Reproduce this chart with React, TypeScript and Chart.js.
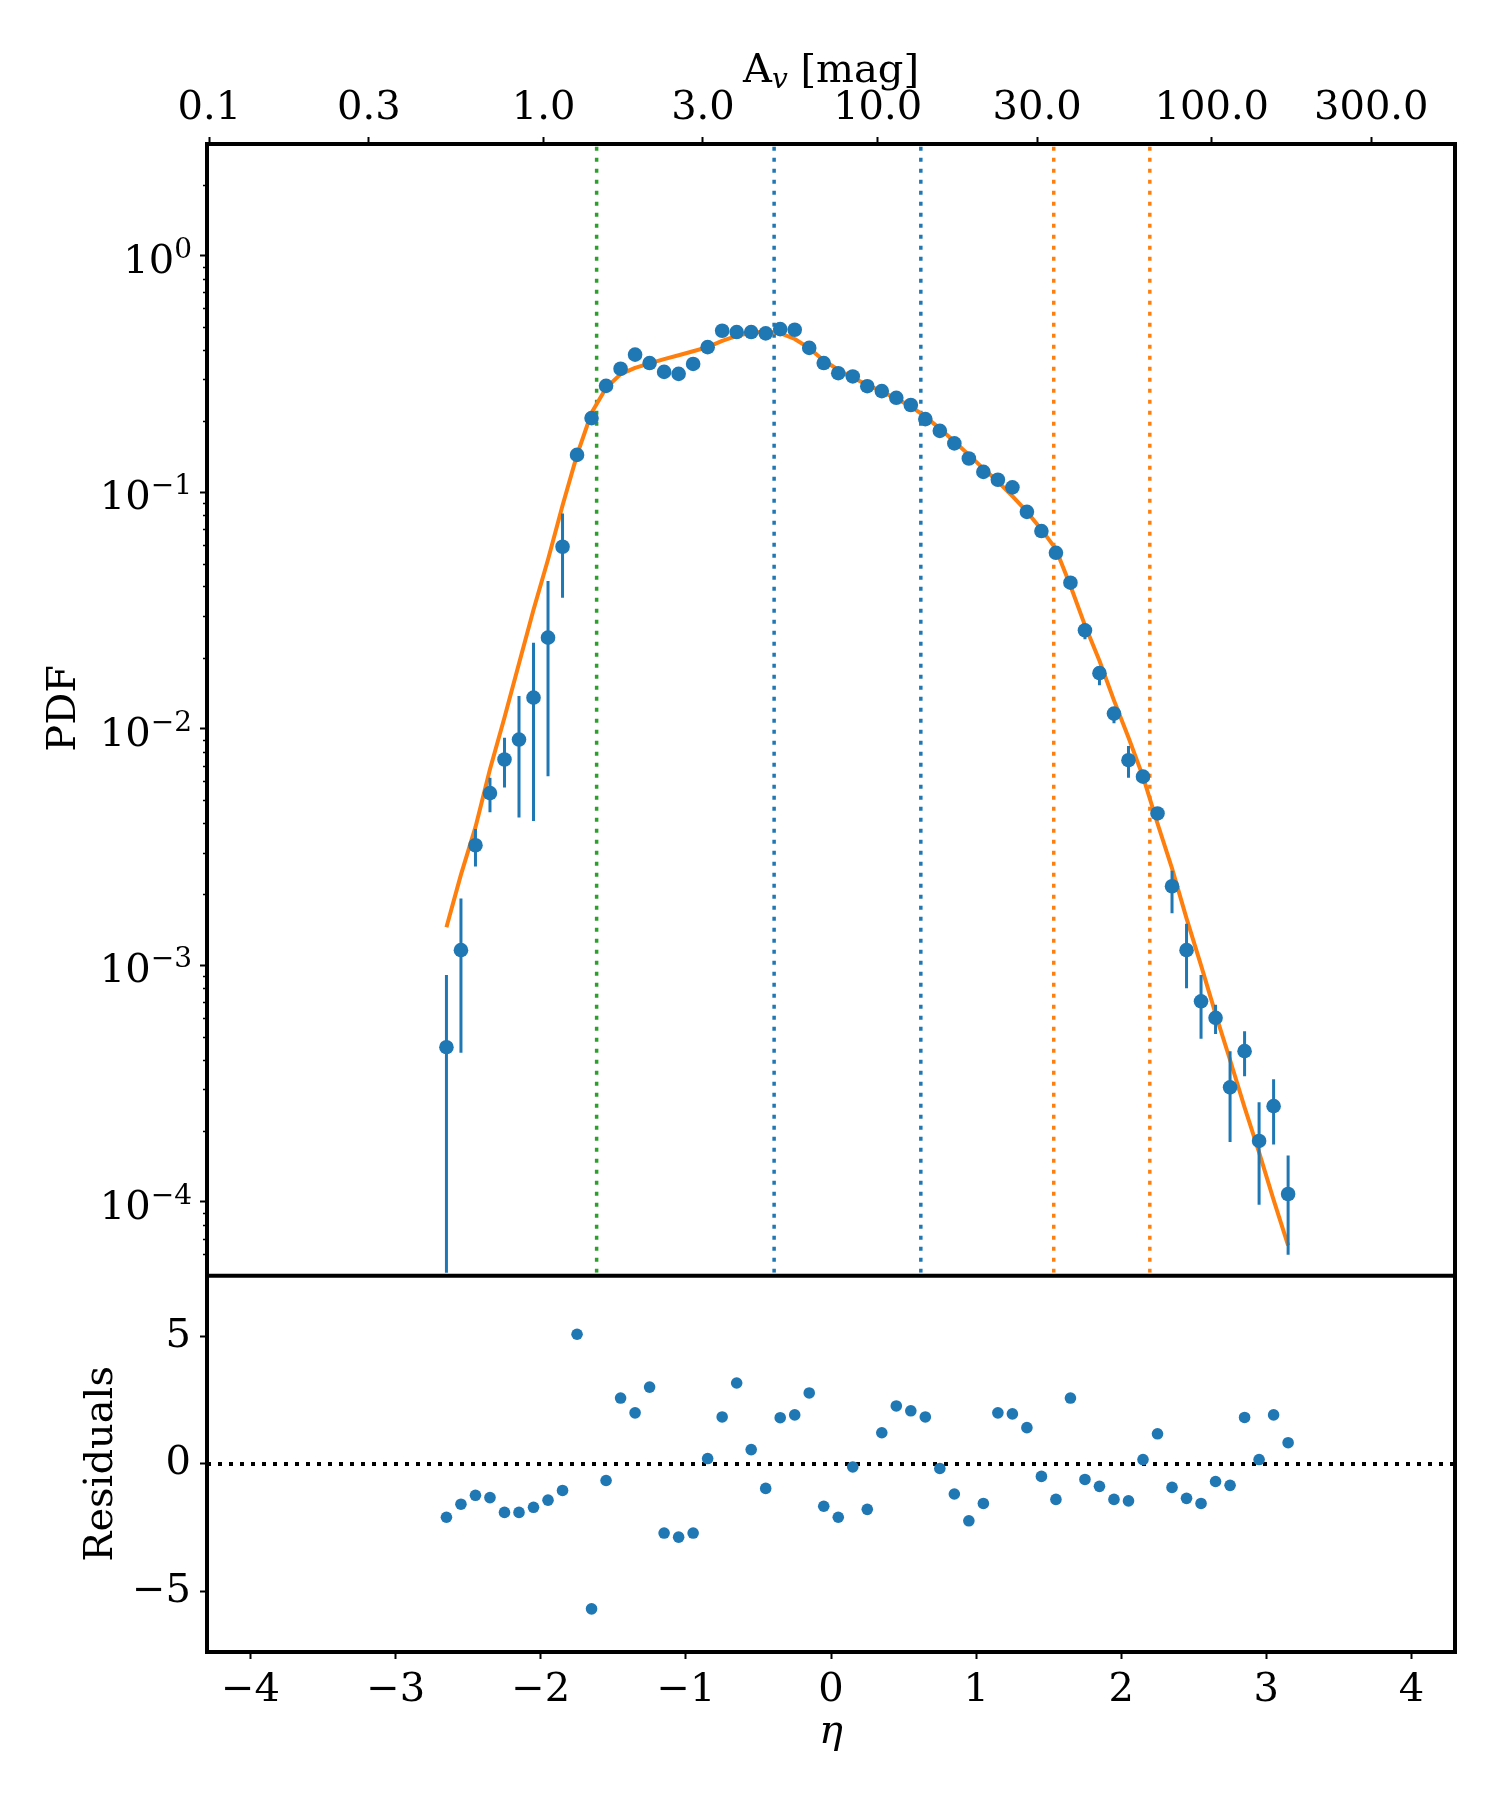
import React, { useEffect, useRef } from "react";
import { Chart, registerables } from "chart.js";

Chart.register(...registerables);

// ---------------- data ----------------
const etaBins = [
  -2.65, -2.55, -2.45, -2.35, -2.25, -2.15, -2.05, -1.95, -1.85, -1.75,
  -1.65, -1.55, -1.45, -1.35, -1.25, -1.15, -1.05, -0.95, -0.85, -0.75,
  -0.65, -0.55, -0.45, -0.35, -0.25, -0.15, -0.05, 0.05, 0.15, 0.25,
  0.35, 0.45, 0.55, 0.65, 0.75, 0.85, 0.95, 1.05, 1.15, 1.25,
  1.35, 1.45, 1.55, 1.65, 1.75, 1.85, 1.95, 2.05, 2.15, 2.25,
  2.35, 2.45, 2.55, 2.65, 2.75, 2.85, 2.95, 3.05, 3.15,
];

const pdfValues = [
  4.51e-4, 1.16e-3, 3.22e-3, 5.35e-3, 7.42e-3, 9.01e-3, 1.355e-2, 2.43e-2, 5.89e-2, 0.144,
  0.206, 0.282, 0.333, 0.382, 0.352, 0.323, 0.317, 0.349, 0.411, 0.482,
  0.476, 0.476, 0.47, 0.49, 0.487, 0.408, 0.352, 0.319, 0.309, 0.281,
  0.268, 0.251, 0.234, 0.204, 0.182, 0.161, 0.139, 0.122, 0.113, 0.105,
  0.0827, 0.0686, 0.0555, 0.0415, 0.0261, 0.0172, 0.0116, 7.37e-3, 6.28e-3, 4.39e-3,
  2.16e-3, 1.16e-3, 7.05e-4, 6.0e-4, 3.05e-4, 4.34e-4, 1.81e-4, 2.54e-4, 1.08e-4,
];

// lower / upper ends of the error bars (null = hidden behind the marker)
const pdfErrLower = [
  1e-6, 4.27e-4, 2.62e-3, 4.44e-3, 5.65e-3, 4.22e-3, 4.08e-3, 6.3e-3, 3.58e-2, null,
  null, null, null, null, null, null, null, null, null, null,
  null, null, null, null, null, null, null, null, null, null,
  null, null, null, null, null, null, null, null, null, null,
  null, null, null, null, 0.0239, 0.01528, 0.01057, 6.22e-3, null, null,
  1.66e-3, 8.0e-4, 4.89e-4, 5.13e-4, 1.79e-4, 3.4e-4, 9.73e-5, 1.75e-4, 5.98e-5,
];
const pdfErrUpper = [
  9.1e-4, 1.92e-3, 3.77e-3, 6.22e-3, 9.18e-3, 1.377e-2, 2.31e-2, 4.22e-2, 8.13e-2, null,
  null, null, null, null, null, null, null, null, null, null,
  null, null, null, null, null, null, null, null, null, null,
  null, null, null, null, null, null, null, null, null, null,
  null, null, null, null, null, null, null, 8.47e-3, null, null,
  2.51e-3, 1.5e-3, 9.1e-4, 6.81e-4, 4.33e-4, 5.27e-4, 2.64e-4, 3.3e-4, 1.57e-4,
];

const fitValues = [
  1.45e-3, 2.42e-3, 3.84e-3, 6.75e-3, 1.117e-2, 1.89e-2, 3.19e-2, 5.2e-2, 8.79e-2, 0.144,
  0.217, 0.276, 0.316, 0.336, 0.351, 0.366, 0.38, 0.395, 0.411, 0.437,
  0.459, 0.473, 0.479, 0.471, 0.445, 0.407, 0.361, 0.33, 0.305, 0.285,
  0.267, 0.249, 0.231, 0.209, 0.186, 0.164, 0.144, 0.126, 0.111, 0.0964,
  0.0828, 0.0697, 0.0575, 0.0403, 0.0274, 0.0194, 0.0132, 9.2e-3, 6.28e-3, 3.98e-3,
  2.57e-3, 1.58e-3, 1.0e-3, 6.24e-4, 3.98e-4, 2.51e-4, 1.62e-4, 1.02e-4, 6.55e-5,
];

const residuals = [
  -2.09, -1.58, -1.23, -1.32, -1.9, -1.9, -1.7, -1.42, -1.04, 5.08,
  -5.68, -0.65, 2.58, 2.0, 3.01, -2.71, -2.87, -2.71, 0.21, 1.84,
  3.17, 0.56, -0.96, 1.81, 1.92, 2.78, -1.66, -2.09, -0.12, -1.78,
  1.22, 2.27, 2.08, 1.84, -0.18, -1.18, -2.23, -1.55, 2.0, 1.96,
  1.42, -0.49, -1.39, 2.58, -0.61, -0.88, -1.39, -1.45, 0.17, 1.18,
  -0.92, -1.35, -1.55, -0.69, -0.84, 1.82, 0.17, 1.92, 0.83,
];

const greenLines = [-1.615];
const blueLines = [-0.392, 0.619];
const orangeLines = [1.535, 2.197];

const etaTicks = [-4, -3, -2, -1, 0, 1, 2, 3, 4];
const residualTicks = [-5, 0, 5];
const pdfTicks = [1e-4, 1e-3, 1e-2, 1e-1, 1];
const pdfTickExponents = ["\u22124", "\u22123", "\u22122", "\u22121", "0"];
const avTicks = [0.1, 0.3, 1, 3, 10, 30, 100, 300];
const avTickLabels = ["0.1", "0.3", "1.0", "3.0", "10.0", "30.0", "100.0", "300.0"];
const AV_MEAN = 7.25; // A_v = AV_MEAN * exp(eta)

const ETA_MIN = -4.3;
const ETA_MAX = 4.3;
const PDF_MIN = 5.02e-5;
const PDF_MAX = 2.97;
const RES_MIN = -7.37;
const RES_MAX = 7.37;

// ---------------- styles ----------------
const C0 = "#1f77b4";
const C1 = "#ff7f0e";
const C2 = "#2ca02c";
const FONT = "DejaVu Serif";
const TICK_FONT = { family: FONT, size: 40 };
const LEFT = 207;
const RIGHT_PAD = 45;

const fmt = (v: number) => (v < 0 ? "\u2212" + Math.abs(v) : String(v));

const zeroPad = (s: any) => {
  s.paddingTop = 0;
  s.paddingBottom = 0;
  s.paddingLeft = 0;
  s.paddingRight = 0;
};

function makeFrame(drawBottom: boolean) {
  return {
    id: "frame",
    afterDraw(chart: any) {
      const { ctx, chartArea: a } = chart;
      ctx.save();
      ctx.strokeStyle = "#000";
      ctx.lineWidth = 4;
      ctx.lineCap = "square";
      ctx.beginPath();
      ctx.moveTo(a.left, a.bottom);
      ctx.lineTo(a.left, a.top);
      ctx.lineTo(a.right, a.top);
      ctx.lineTo(a.right, a.bottom);
      if (drawBottom) ctx.lineTo(a.left, a.bottom);
      ctx.stroke();
      ctx.restore();
    },
  };
}

function vline(x: number, color: string) {
  return {
    data: [
      { x, y: PDF_MIN },
      { x, y: PDF_MAX },
    ],
    borderColor: color,
    borderWidth: 3.5,
    borderDash: [4, 7],
    pointRadius: 0,
    order: 3,
    xAxisID: "x",
    yAxisID: "y",
  };
}

export default function App() {
  const mainRef = useRef<HTMLCanvasElement>(null);
  const resRef = useRef<HTMLCanvasElement>(null);

  useEffect(() => {
    const errorBarPlugin = {
      id: "errorBars",
      beforeDatasetDraw(chart: any, args: any) {
        if (args.index !== 0) return;
        const { ctx, chartArea: a } = chart;
        const xs = chart.scales.x;
        const ys = chart.scales.y;
        ctx.save();
        ctx.beginPath();
        ctx.rect(a.left, a.top, a.right - a.left, a.bottom - a.top);
        ctx.clip();
        ctx.strokeStyle = C0;
        ctx.lineWidth = 3;
        etaBins.forEach((eta, i) => {
          const lo = pdfErrLower[i];
          const hi = pdfErrUpper[i];
          if (lo == null && hi == null) return;
          const px = xs.getPixelForValue(eta);
          const yv = ys.getPixelForValue(pdfValues[i]);
          const y1 = lo == null ? yv : ys.getPixelForValue(lo);
          const y2 = hi == null ? yv : ys.getPixelForValue(hi);
          ctx.beginPath();
          ctx.moveTo(px, y1);
          ctx.lineTo(px, y2);
          ctx.stroke();
        });
        ctx.restore();
      },
    };

    const mainDecor = {
      id: "mainDecor",
      afterDraw(chart: any) {
        const { ctx, chartArea: a } = chart;
        const ys = chart.scales.y;
        ctx.save();
        // minor ticks
        ctx.strokeStyle = "#000";
        ctx.lineWidth = 1.5;
        for (let n = -5; n <= 0; n++) {
          for (let k = 2; k <= 9; k++) {
            const v = k * Math.pow(10, n);
            if (v < PDF_MIN || v > PDF_MAX) continue;
            const py = Math.round(ys.getPixelForValue(v)) + 0.5;
            ctx.beginPath();
            ctx.moveTo(a.left - 4, py);
            ctx.lineTo(a.left, py);
            ctx.stroke();
          }
        }
        // major labels 10^n
        ctx.fillStyle = "#000";
        ctx.textBaseline = "alphabetic";
        ctx.textAlign = "left";
        pdfTicks.forEach((v, i) => {
          const py = ys.getPixelForValue(v);
          ctx.font = `40px "${FONT}"`;
          const wb = ctx.measureText("10").width;
          ctx.font = `28px "${FONT}"`;
          const we = ctx.measureText(pdfTickExponents[i]).width;
          const x0 = 192 - wb - we;
          ctx.font = `40px "${FONT}"`;
          ctx.fillText("10", x0, py + 17);
          ctx.font = `28px "${FONT}"`;
          ctx.fillText(pdfTickExponents[i], x0 + wb, py + 17 - 15);
        });
        // top axis title: A_v [mag]
        const cx = (a.left + a.right) / 2;
        const base = 82;
        ctx.font = `40px "${FONT}"`;
        const wA = ctx.measureText("A").width;
        const wRest = ctx.measureText(" [mag]").width;
        ctx.font = `italic 28px "${FONT}"`;
        const wV = ctx.measureText("v").width;
        let x = cx - (wA + wV + wRest) / 2;
        ctx.font = `40px "${FONT}"`;
        ctx.fillText("A", x, base);
        x += wA;
        ctx.font = `italic 28px "${FONT}"`;
        ctx.fillText("v", x, base + 6);
        x += wV;
        ctx.font = `40px "${FONT}"`;
        ctx.fillText(" [mag]", x, base);
        ctx.restore();
      },
    };

    const main = new Chart(mainRef.current as HTMLCanvasElement, {
      type: "line",
      data: {
        datasets: [
          {
            data: etaBins.map((x, i) => ({ x, y: pdfValues[i] })),
            showLine: false,
            pointRadius: 7.3,
            pointBackgroundColor: C0,
            pointBorderWidth: 0,
            borderColor: C0,
            order: 0,
            xAxisID: "x",
            yAxisID: "y",
          },
          {
            data: etaBins.map((x, i) => ({ x, y: fitValues[i] })),
            borderColor: C1,
            borderWidth: 4,
            pointRadius: 0,
            borderJoinStyle: "round",
            order: 1,
            xAxisID: "x",
            yAxisID: "y",
          },
          ...greenLines.map((x) => vline(x, C2)),
          ...blueLines.map((x) => vline(x, C0)),
          ...orangeLines.map((x) => vline(x, C1)),
        ] as any,
      },
      options: {
        animation: false,
        responsive: false,
        devicePixelRatio: 1,
        events: [],
        layout: { padding: { left: 0, right: RIGHT_PAD, top: 0, bottom: 6 } },
        plugins: { legend: { display: false }, tooltip: { enabled: false } },
        scales: {
          x: { type: "linear", min: ETA_MIN, max: ETA_MAX, display: false, afterFit: zeroPad },
          xTop: {
            type: "linear",
            axis: "x",
            position: "top",
            min: ETA_MIN,
            max: ETA_MAX,
            afterBuildTicks: (s: any) => {
              s.ticks = avTicks.map((v) => ({ value: Math.log(v / AV_MEAN) }));
            },
            afterFit: (s: any) => {
              s.height = 144;
              zeroPad(s);
            },
            grid: { drawOnChartArea: false, drawTicks: true, tickLength: 7, tickWidth: 2, tickColor: "#000" },
            border: { display: false },
            ticks: {
              autoSkip: false,
              maxRotation: 0,
              padding: 4,
              color: "#000",
              font: TICK_FONT,
              callback: (_v: any, i: number) => avTickLabels[i],
            },
          },
          y: {
            type: "logarithmic",
            min: PDF_MIN,
            max: PDF_MAX,
            afterBuildTicks: (s: any) => {
              s.ticks = pdfTicks.map((v) => ({ value: v }));
            },
            afterFit: (s: any) => {
              s.width = LEFT;
              zeroPad(s);
            },
            grid: { drawOnChartArea: false, drawTicks: true, tickLength: 7, tickWidth: 2, tickColor: "#000" },
            border: { display: false },
            ticks: { callback: () => "", font: TICK_FONT },
            title: {
              display: true,
              text: "PDF",
              color: "#000",
              font: { family: FONT, size: 40 },
              padding: { top: 41, bottom: 0 },
            },
          },
        } as any,
      },
      plugins: [errorBarPlugin, mainDecor, makeFrame(false)],
    });

    const res = new Chart(resRef.current as HTMLCanvasElement, {
      type: "line",
      data: {
        datasets: [
          {
            data: etaBins.map((x, i) => ({ x, y: residuals[i] })),
            showLine: false,
            pointRadius: 5.8,
            pointBackgroundColor: C0,
            pointBorderWidth: 0,
            borderColor: C0,
            order: 0,
          },
          {
            data: [
              { x: ETA_MIN, y: 0 },
              { x: ETA_MAX, y: 0 },
            ],
            borderColor: "#000",
            borderWidth: 4,
            borderDash: [4, 7],
            pointRadius: 0,
            order: 1,
          },
        ] as any,
      },
      options: {
        animation: false,
        responsive: false,
        devicePixelRatio: 1,
        events: [],
        layout: { padding: { left: 0, right: RIGHT_PAD, top: 4, bottom: 0 } },
        plugins: { legend: { display: false }, tooltip: { enabled: false } },
        scales: {
          x: {
            type: "linear",
            min: ETA_MIN,
            max: ETA_MAX,
            afterBuildTicks: (s: any) => {
              s.ticks = etaTicks.map((v) => ({ value: v }));
            },
            afterFit: (s: any) => {
              s.height = 148;
              zeroPad(s);
            },
            grid: { drawOnChartArea: false, drawTicks: true, tickLength: 7, tickWidth: 2, tickColor: "#000" },
            border: { display: false },
            ticks: {
              autoSkip: false,
              maxRotation: 0,
              padding: 8,
              color: "#000",
              font: TICK_FONT,
              callback: (v: any) => fmt(Number(v)),
            },
            title: {
              display: true,
              text: "\u03B7",
              color: "#000",
              font: { family: FONT, size: 40, style: "italic" },
              padding: { top: 0, bottom: 43 },
            },
          },
          y: {
            type: "linear",
            min: RES_MIN,
            max: RES_MAX,
            afterBuildTicks: (s: any) => {
              s.ticks = residualTicks.map((v) => ({ value: v }));
            },
            afterFit: (s: any) => {
              s.width = LEFT;
              zeroPad(s);
            },
            grid: { drawOnChartArea: false, drawTicks: true, tickLength: 7, tickWidth: 2, tickColor: "#000" },
            border: { display: false },
            ticks: {
              padding: 9,
              color: "#000",
              font: TICK_FONT,
              callback: (v: any) => fmt(Number(v)),
            },
            title: {
              display: true,
              text: "Residuals",
              color: "#000",
              font: { family: FONT, size: 40 },
              padding: { top: 78, bottom: 0 },
            },
          },
        } as any,
      },
      plugins: [makeFrame(true)],
    });

    return () => {
      main.destroy();
      res.destroy();
    };
  }, []);

  return (
    <div
      style={{
        position: "absolute",
        left: 0,
        top: 0,
        width: 1500,
        height: 1800,
        background: "#fff",
      }}
    >
      <canvas
        ref={mainRef}
        width={1500}
        height={1280}
        style={{ position: "absolute", left: 0, top: 0, width: 1500, height: 1280 }}
      />
      <canvas
        ref={resRef}
        width={1500}
        height={530}
        style={{ position: "absolute", left: 0, top: 1270, width: 1500, height: 530 }}
      />
    </div>
  );
}
